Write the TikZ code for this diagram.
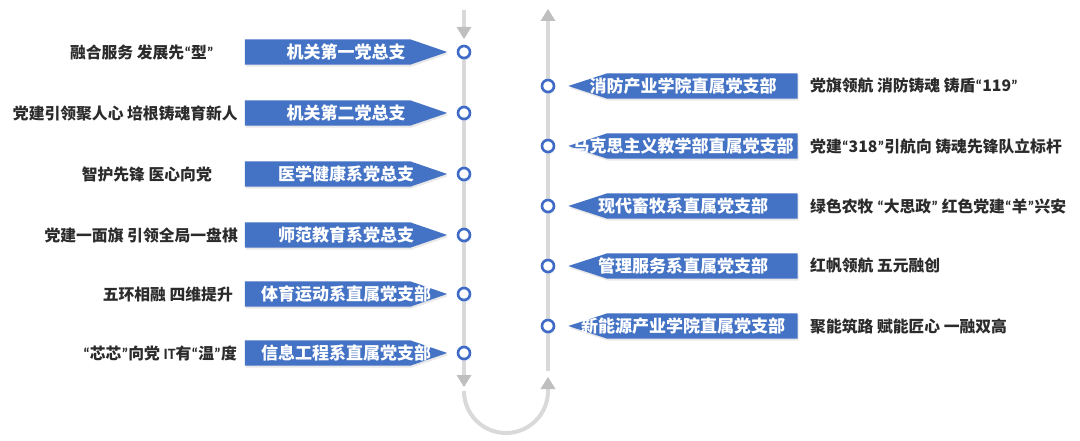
\documentclass[tikz,border=0pt]{standalone}
\usepackage{fontspec}
\setmainfont{Noto Sans CJK SC}
\newfontfamily\latinf{Carlito}
\usepackage{xcolor}
\usepackage{tikz}
\usetikzlibrary{arrows.meta, shadows, backgrounds}

\definecolor{bannerblue}{HTML}{4472C4}
\definecolor{ringblue}{HTML}{3F6BC6}
\definecolor{trackgrey}{HTML}{D9D9D9}
\definecolor{tipgrey}{HTML}{BFBFBF}
\definecolor{notetext}{HTML}{2B2B2B}

% narrow latin quotes round a word
\newcommand{\qt}[1]{{\latinf\bfseries “}#1{\latinf\bfseries ”}}

\begin{document}
\begin{tikzpicture}[
    x=1pt, y=-1pt,
    banner/.style={rectangle, text=white, inner sep=0pt, minimum height=25pt,
      font=\bfseries\fontsize{17pt}{20pt}\selectfont},
    lban/.style={banner, minimum width=202pt},
    rban/.style={banner, minimum width=229pt},
    bannerfill/.style={fill=bannerblue,
      drop shadow={opacity=0.18, shadow xshift=1pt, shadow yshift=-2pt}},
    dot/.style={circle, draw=ringblue, line width=2.6pt, fill=white,
      minimum size=12pt, inner sep=0pt,
      circular drop shadow={opacity=0.25, fill=bannerblue!50,
        shadow xshift=0.5pt, shadow yshift=-1.5pt, shadow scale=1.15}},
    note/.style={text=notetext, inner sep=0pt,
      font=\bfseries\fontsize{15.8pt}{18pt}\selectfont},
    lnote/.style={note, anchor=east},
    rnote/.style={note, anchor=west},
    track/.style={draw=trackgrey, line width=4pt},
    tip/.style={-{Triangle[length=12pt, width=15pt, line width=0pt, fill=tipgrey, color=tipgrey]}}
  ]
  \useasboundingbox (0,0) rectangle (1080,441);

  % left column: going down
  \node[dot] (l1) at (464,52) {};
  \node[dot] (l2) at (464,113) {};
  \node[dot] (l3) at (464,174) {};
  \node[dot] (l4) at (464,235) {};
  \node[dot] (l5) at (464,294) {};
  \node[dot] (l6) at (464,353) {};

  \node[lban] (lb1) at (346,52) {机关第一党总支};
  \node[lban] (lb2) at (346,113) {机关第二党总支};
  \node[lban] (lb3) at (346,174) {医学健康系党总支};
  \node[lban] (lb4) at (346,235) {师范教育系党总支};
  \node[lban] (lb5) at (346,294) {体育运动系直属党支部};
  \node[lban] (lb6) at (346,353) {信息工程系直属党支部};

  \node[lnote] (ln1) at (214,52) {融合服务 发展先\qt{型}};
  \node[lnote] (ln2) at (238,113) {党建引领聚人心 培根铸魂育新人};
  \node[lnote] (ln3) at (212,174) {智护先锋 医心向党};
  \node[lnote] (ln4) at (238,235) {党建一面旗 引领全局一盘棋};
  \node[lnote] (ln5) at (233,294) {五环相融 四维提升};
  \node[lnote] (ln6) at (237,353) {\qt{芯芯}向党 {\latinf\bfseries IT}有\qt{温}度};

  % right column: going up
  \node[dot] (r1) at (548,86) {};
  \node[dot] (r2) at (548,146) {};
  \node[dot] (r3) at (548,206) {};
  \node[dot] (r4) at (548,266) {};
  \node[dot] (r5) at (548,326) {};

  \node[rban] (rb1) at (683,86) {消防产业学院直属党支部};
  \node[rban] (rb2) at (683,146) {马克思主义教学部直属党支部};
  \node[rban] (rb3) at (683,206) {现代畜牧系直属党支部};
  \node[rban] (rb4) at (683,266) {管理服务系直属党支部};
  \node[rban] (rb5) at (683,326) {新能源产业学院直属党支部};

  \node[rnote] (rn1) at (810,86) {党旗领航 消防铸魂 铸盾\qt{119}};
  \node[rnote] (rn2) at (810,146) {党建\qt{318}引航向 铸魂先锋队立标杆};
  \node[rnote] (rn3) at (810,206) {绿色农牧 \qt{大思政} 红色党建\qt{羊}兴安};
  \node[rnote] (rn4) at (810,266) {红帆领航 五元融创};
  \node[rnote] (rn5) at (810,326) {聚能筑路 赋能匠心 一融双高};

  \coordinate (ltop) at (464,10);
  \coordinate (ltip) at (464,39);
  \coordinate (ldown) at (464,387);
  \coordinate (bendin) at (464,391);
  \coordinate (bendout) at (548,377);
  \coordinate (rstart) at (548,371);
  \coordinate (rtop) at (548,9);

  \begin{scope}[on background layer]
    \foreach \b in {lb1,lb2,lb3,lb4,lb5,lb6}
      \fill[bannerfill] (\b.north west) -- ([xshift=-37pt]\b.north east) -- (\b.east)
        -- ([xshift=-37pt]\b.south east) -- (\b.south west) -- cycle;
    \foreach \b in {rb1,rb2,rb3,rb4,rb5}
      \fill[bannerfill] (\b.north east) -- ([xshift=39pt]\b.north west) -- (\b.west)
        -- ([xshift=39pt]\b.south west) -- (\b.south east) -- cycle;
    \draw[track, tip] (ltop) -- (ltip);
    \draw[track] (l1) -- (l6);
    \draw[track, tip] (l6) -- (ldown);
    \draw[track, tip] (bendin) arc[start angle=180, end angle=360, radius=42pt] -- (bendout);
    \draw[track, tip] (rstart) -- (rtop);
  \end{scope}
\end{tikzpicture}
\end{document}
